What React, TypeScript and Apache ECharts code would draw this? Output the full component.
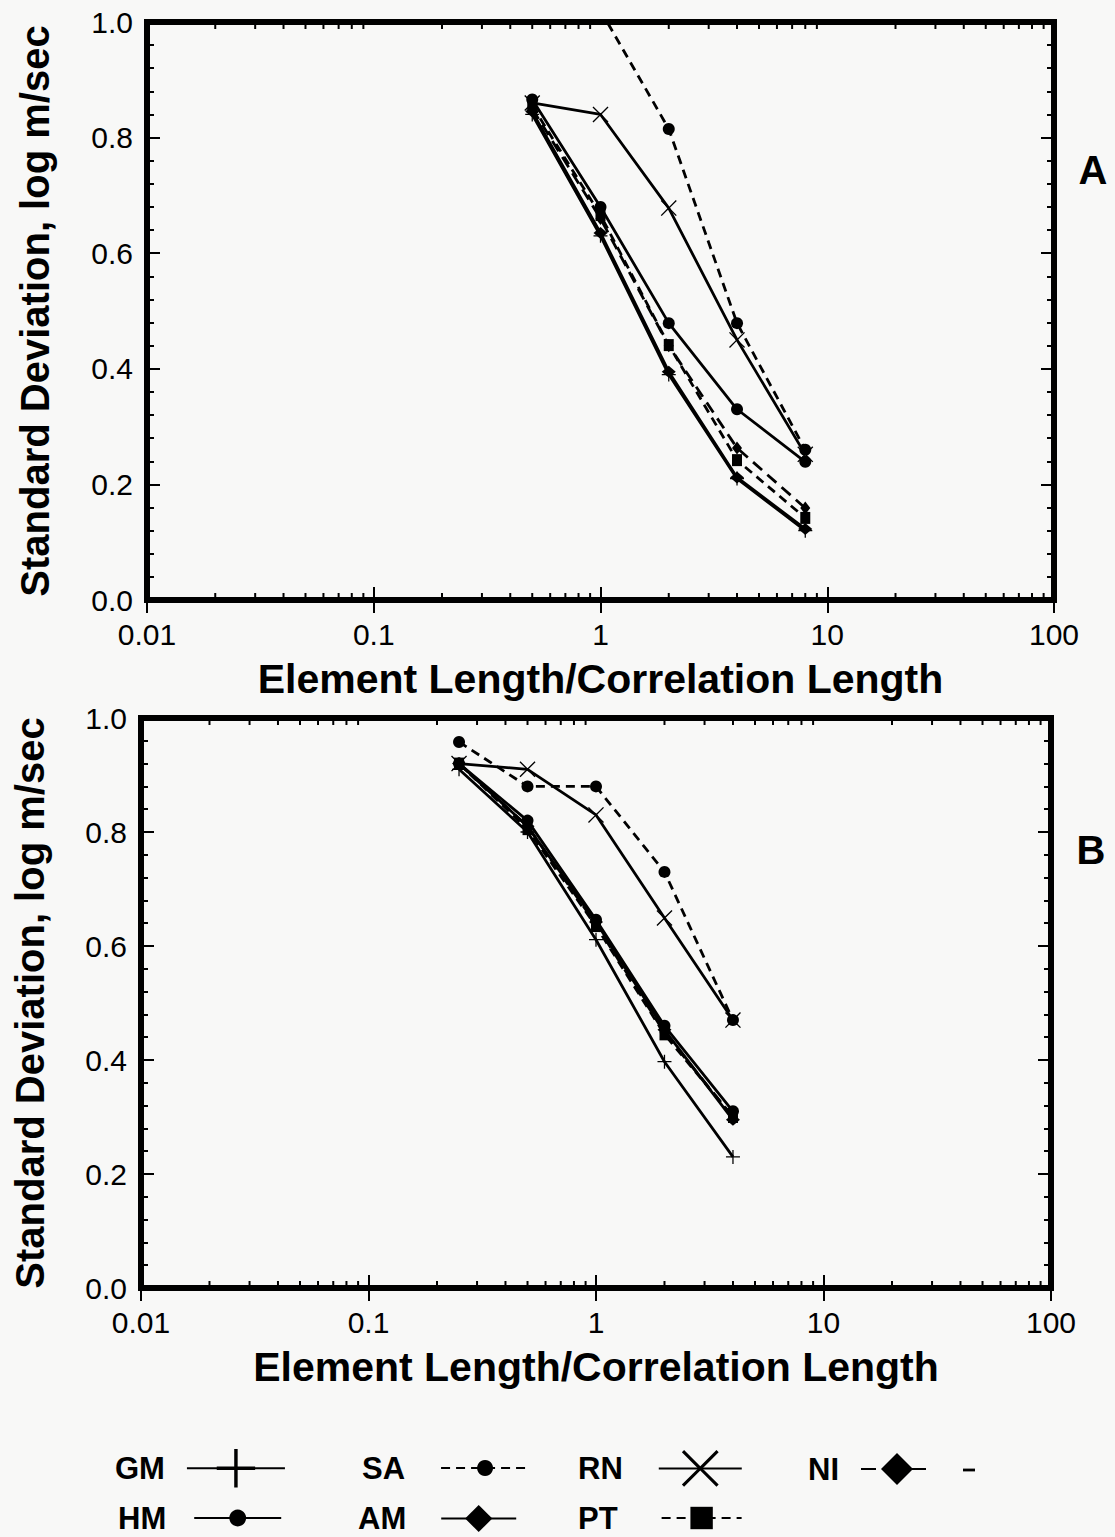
import React, { useEffect, useRef } from "react";
import * as echarts from "echarts";

// ---------- data ----------
const SERIES_NAMES = ["GM", "SA", "RN", "NI", "HM", "AM", "PT"];

const X_TICK_VALUES = [0.01, 0.1, 1, 10, 100];
const X_TICK_LABELS = ["0.01", "0.1", "1", "10", "100"];
const X_MINOR_TICKS = [
  0.02, 0.03, 0.04, 0.05, 0.06, 0.07, 0.08, 0.09,
  0.2, 0.3, 0.4, 0.5, 0.6, 0.7, 0.8, 0.9,
  2, 3, 4, 5, 6, 7, 8, 9,
  20, 30, 40, 50, 60, 70, 80, 90,
];
const Y_TICK_LABELS = ["0.0", "0.2", "0.4", "0.6", "0.8", "1.0"];

// Panel A
const xA = [0.5, 1, 2, 4, 8];
const A_GM = [0.84, 0.63, 0.39, 0.21, 0.12];
const A_SA = [null, 1.02, 0.815, 0.479, 0.26];
const A_RN = [0.86, 0.84, 0.678, 0.45, 0.252];
const A_NI = [0.85, 0.66, 0.44, 0.263, 0.159];
const A_HM = [0.866, 0.68, 0.479, 0.33, 0.239];
const A_AM = [0.845, 0.635, 0.395, 0.212, 0.123];
const A_PT = [0.855, 0.666, 0.441, 0.242, 0.142];

// Panel B
const xB = [0.25, 0.5, 1, 2, 4];
const B_GM = [0.91, 0.8, 0.611, 0.397, 0.23];
const B_SA = [0.958, 0.88, 0.88, 0.73, 0.47];
const B_RN = [0.92, 0.91, 0.83, 0.649, 0.47];
const B_NI = [0.92, 0.81, 0.638, 0.448, 0.3];
const B_HM = [0.92, 0.82, 0.646, 0.46, 0.31];
const B_AM = [0.92, 0.81, 0.642, 0.453, 0.295];
const B_PT = [0.92, 0.805, 0.635, 0.445, 0.3];

const PANEL_A = { GM: A_GM, SA: A_SA, RN: A_RN, NI: A_NI, HM: A_HM, AM: A_AM, PT: A_PT };
const PANEL_B = { GM: B_GM, SA: B_SA, RN: B_RN, NI: B_NI, HM: B_HM, AM: B_AM, PT: B_PT };

// ---------- styles ----------
const FONT = "'Liberation Sans', Arial, Helvetica, sans-serif";
const PLUS =
  "path://M-0.9,-10L0.9,-10L0.9,-0.9L10,-0.9L10,0.9L0.9,0.9L0.9,10L-0.9,10L-0.9,0.9L-10,0.9L-10,-0.9L-0.9,-0.9Z";
const CROSS =
  "path://M-10,-8.8L-8.8,-10L0,-1.2L8.8,-10L10,-8.8L1.2,0L10,8.8L8.8,10L0,1.2L-8.8,10L-10,8.8L-1.2,0Z";

const STYLE: Record<string, any> = {
  GM: { symbol: PLUS, size: 14, dash: "solid" },
  SA: { symbol: "circle", size: 12, dash: [9, 6] },
  RN: { symbol: CROSS, size: 16, dash: "solid" },
  NI: { symbol: "diamond", size: [10, 13], dash: [12, 7] },
  HM: { symbol: "circle", size: 12, dash: "solid" },
  AM: { symbol: "diamond", size: [14, 12], dash: "solid" },
  PT: { symbol: "rect", size: [10, 12], dash: [9, 6] },
};

const LEGEND_LAYOUT = [
  { name: "GM", left: 115, top: 1449, h: 48, pad: 17, w: 98 },
  { name: "SA", left: 362, top: 1452.5, h: 20, pad: 31, w: 88 },
  { name: "RN", left: 578, top: 1450, h: 46, pad: 31, w: 83 },
  { name: "NI", left: 808, top: 1453, h: 40, pad: 17, w: 72, dash: [15, 10] },
  { name: "HM", left: 118, top: 1502.5, h: 21, pad: 23, w: 87 },
  { name: "AM", left: 358, top: 1503, h: 34, pad: 30, w: 75 },
  { name: "PT", left: 578, top: 1502.5, h: 28, pad: 39, w: 80 },
];

function pairs(xs: number[], ys: (number | null)[]) {
  const out: number[][] = [];
  xs.forEach((x, i) => {
    const y = ys[i];
    if (y !== null && y !== undefined) out.push([x, y]);
  });
  return out;
}

function xLabel(v: number) {
  const idx = X_TICK_VALUES.findIndex((t) => Math.abs(Math.log10(t) - Math.log10(v)) < 1e-6);
  return idx >= 0 ? X_TICK_LABELS[idx] : "";
}
function yLabel(v: number) {
  const idx = Math.round(v / 0.2);
  return Y_TICK_LABELS[idx] ?? "";
}

export default function App() {
  const ref = useRef<HTMLDivElement>(null);

  useEffect(() => {
    if (!ref.current) return;
    const chart = echarts.init(ref.current, null, { renderer: "svg" });

    const grids = [
      { left: 147, top: 22, width: 907, height: 578 },
      { left: 141, top: 718, width: 910, height: 570 },
    ];

    const tickStyle = { color: "#000", width: 2 };
    const xAxes: any[] = [];
    const yAxes: any[] = [];
    grids.forEach((_, gi) => {
      xAxes.push({
        gridIndex: gi,
        type: "log",
        logBase: 10,
        min: 0.01,
        max: 100,
        position: "bottom",
        axisLine: { show: false },
        axisTick: { show: true, inside: true, length: 13, lineStyle: tickStyle },
        splitLine: { show: false },
        axisLabel: {
          formatter: xLabel,
          color: "#000",
          fontSize: 30,
          fontFamily: FONT,
          margin: 19,
        },
        name: "Element Length/Correlation Length",
        nameLocation: "middle",
        nameGap: 58,
        nameTextStyle: { fontSize: 41, fontWeight: "bold", fontFamily: FONT, color: "#000" },
      });
      xAxes.push({
        gridIndex: gi,
        type: "log",
        logBase: 10,
        min: 0.01,
        max: 100,
        position: "top",
        axisLine: { show: false },
        axisTick: { show: true, inside: true, length: 13, lineStyle: tickStyle },
        splitLine: { show: false },
        axisLabel: { show: false },
      });
      yAxes.push({
        gridIndex: gi,
        type: "value",
        min: 0,
        max: 1,
        interval: 0.2,
        position: "left",
        axisLine: { show: false },
        axisTick: { show: true, inside: true, length: 13, lineStyle: tickStyle },
        minorTick: { show: true, splitNumber: 5, length: 7, lineStyle: tickStyle },
        splitLine: { show: false },
        axisLabel: {
          formatter: yLabel,
          color: "#000",
          fontSize: 30,
          fontFamily: FONT,
          margin: 14,
        },
        name: "Standard Deviation, log m/sec",
        nameLocation: "middle",
        nameGap: gi === 0 ? 92 : 91,
        nameTextStyle: { fontSize: 40, fontWeight: "bold", fontFamily: FONT, color: "#000" },
      });
      yAxes.push({
        gridIndex: gi,
        type: "value",
        min: 0,
        max: 1,
        interval: 0.2,
        position: "right",
        axisLine: { show: false },
        axisTick: { show: true, inside: true, length: 13, lineStyle: tickStyle },
        minorTick: { show: true, splitNumber: 5, length: 7, lineStyle: tickStyle },
        splitLine: { show: false },
        axisLabel: { show: false },
      });
    });

    const series: any[] = [];
    [PANEL_A, PANEL_B].forEach((panel: any, gi) => {
      const xs = gi === 0 ? xA : xB;
      SERIES_NAMES.forEach((name) => {
        const st = STYLE[name];
        series.push({
          name,
          type: "line",
          xAxisIndex: gi * 2,
          yAxisIndex: gi * 2,
          data: pairs(xs, panel[name]),
          symbol: st.symbol,
          symbolSize: st.size,
          showSymbol: true,
          clip: true,
          itemStyle: { color: "#000" },
          lineStyle: { color: "#000", width: 2.8, type: st.dash },
          emphasis: { disabled: true },
          z: 3,
        });
      });
      series.push({
        name: "minorTicks" + gi,
        type: "custom",
        xAxisIndex: gi * 2,
        yAxisIndex: gi * 2,
        silent: true,
        clip: false,
        data: X_MINOR_TICKS.map((v) => [v, 0]),
        renderItem: (params: any, api: any) => {
          const v = api.value(0);
          const b = api.coord([v, 0]);
          const t = api.coord([v, 1]);
          return {
            type: "group",
            children: [
              {
                type: "line",
                shape: { x1: b[0], y1: b[1], x2: b[0], y2: b[1] - 7 },
                style: { stroke: "#000", lineWidth: 2 },
              },
              {
                type: "line",
                shape: { x1: t[0], y1: t[1], x2: t[0], y2: t[1] + 7 },
                style: { stroke: "#000", lineWidth: 2 },
              },
            ],
          };
        },
        z: 2,
      });
    });

    const legends = LEGEND_LAYOUT.map((l) => ({
      data: [l.name],
      left: l.left,
      top: l.top,
      padding: 0,
      align: "right",
      orient: "horizontal",
      selectedMode: false,
      itemWidth: l.w,
      itemHeight: l.h,
      textStyle: {
        fontSize: 31,
        fontWeight: "bold",
        fontFamily: FONT,
        color: "#000",
        padding: [0, l.pad, 0, 0],
      },
      ...(l.dash ? { lineStyle: { type: l.dash } } : {}),
    }));

    chart.setOption({
      animation: false,
      backgroundColor: "#f8f8f7",
      grid: grids.map((g) => ({
        ...g,
        show: true,
        borderWidth: 6,
        borderColor: "#000",
        backgroundColor: "transparent",
      })),
      xAxis: xAxes,
      yAxis: yAxes,
      legend: legends,
      series,
      graphic: [
        {
          type: "text",
          x: 1093,
          y: 170,
          style: {
            text: "A",
            fontSize: 40,
            fontWeight: "bold",
            fontFamily: FONT,
            fill: "#000",
            align: "center",
            verticalAlign: "middle",
          },
        },
        {
          type: "text",
          x: 1091,
          y: 850,
          style: {
            text: "B",
            fontSize: 40,
            fontWeight: "bold",
            fontFamily: FONT,
            fill: "#000",
            align: "center",
            verticalAlign: "middle",
          },
        },
        {
          // trailing dash of the NI legend key
          type: "line",
          shape: { x1: 963, y1: 1470, x2: 975, y2: 1470 },
          style: { stroke: "#000", lineWidth: 2.8 },
        },
      ],
    });

    return () => chart.dispose();
  }, []);

  return (
    <div
      ref={ref}
      style={{ position: "absolute", left: 0, top: 0, width: 1115, height: 1537 }}
    />
  );
}
